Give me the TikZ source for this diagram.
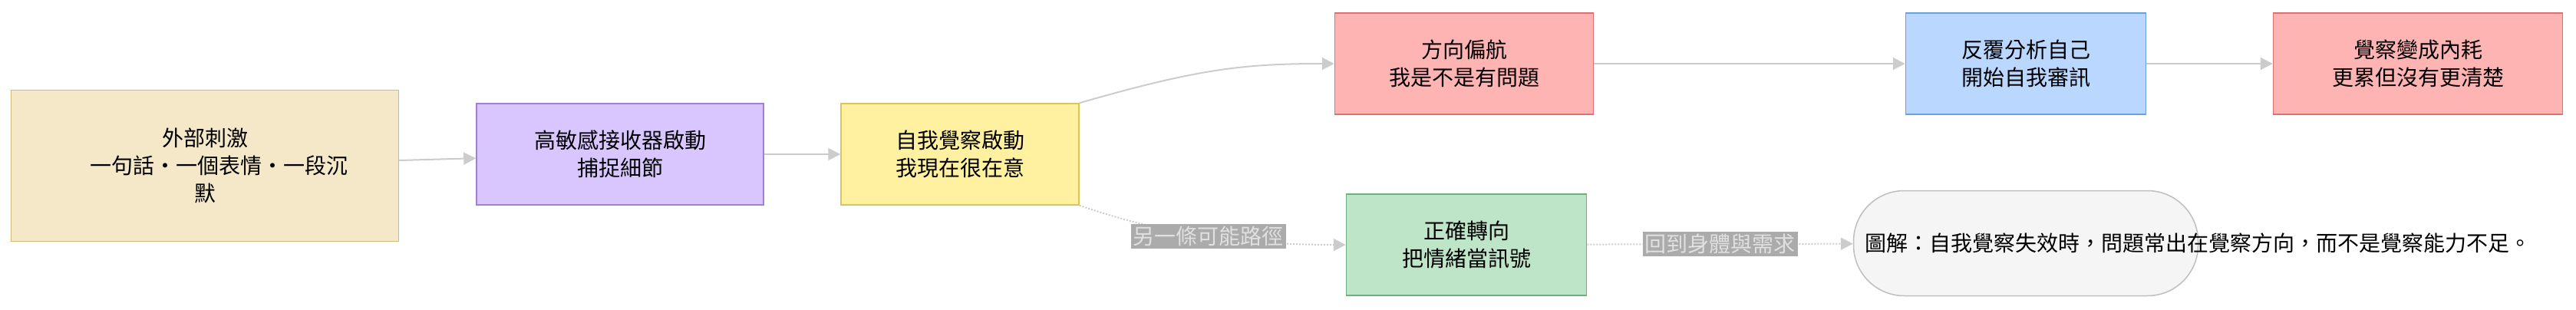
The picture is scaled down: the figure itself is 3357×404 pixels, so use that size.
\documentclass[tikz,border=0pt]{standalone}
\usepackage{fontspec}
\setmainfont{Noto Sans CJK TC}
\usetikzlibrary{arrows.meta,positioning}
\definecolor{edgegray}{HTML}{CCCCCC}
\begin{document}
\begin{tikzpicture}[x=1pt,y=-1pt,
    box/.style={draw, line width=1.5pt, minimum height=132pt, align=center,
      font=\fontsize{28}{36}\selectfont, inner sep=6pt},
    flow/.style={draw=edgegray, line width=2pt, -{Triangle[length=16pt,width=16pt]}},
    alt/.style={flow, dotted},
    tag/.style={fill=black!33, text=black!12, font=\fontsize{28}{34}\selectfont, inner sep=3pt}]
    \useasboundingbox (0,0) rectangle (3357,404);
    % Hauptkette
    \node[box, fill={rgb,255:red,245;green,232;blue,200}, draw={rgb,255:red,212;green,188;blue,120},
      minimum width=505pt, minimum height=197pt, text width=300pt] (stimulus) at (267,216)
      {外部刺激\\一句話・一個表情・一段沉\\默};
    \node[box, fill={rgb,255:red,217;green,198;blue,255}, draw={rgb,255:red,160;green,128;blue,214},
      minimum width=374pt] (sensor) at (808,201) {高敏感接收器啟動\\捕捉細節};
    \node[box, fill={rgb,255:red,255;green,241;blue,160}, draw={rgb,255:red,218;green,196;blue,92},
      minimum width=310pt] (aware) at (1251,201) {自我覺察啟動\\我現在很在意};
    % oben
    \node[box, fill={rgb,255:red,255;green,180;blue,180}, draw={rgb,255:red,224;green,112;blue,112},
      minimum width=337pt] (drift) at (1908,83) {方向偏航\\我是不是有問題};
    \node[box, fill={rgb,255:red,186;green,216;blue,255}, draw={rgb,255:red,106;green,159;blue,224},
      minimum width=313pt] (review) at (2640,83) {反覆分析自己\\開始自我審訊};
    \node[box, fill={rgb,255:red,255;green,180;blue,180}, draw={rgb,255:red,224;green,112;blue,112},
      minimum width=377pt] (drain) at (3151,83) {覺察變成內耗\\更累但沒有更清楚};
    % unten
    \node[box, fill={rgb,255:red,190;green,229;blue,200}, draw={rgb,255:red,110;green,175;blue,125},
      minimum width=313pt] (turn) at (1911,319) {正確轉向\\把情緒當訊號};
    \node[box, rounded corners=66pt, fill=black!4, draw=black!25, line width=1.5pt,
      minimum width=449pt, minimum height=137pt, text width=420pt] (note) at (2640,317)
      {圖解：自我覺察失效時，問題常出在覺察方向，而不是覺察能力不足。};
    % Kanten
    \draw[flow] (stimulus) -- (sensor);
    \draw[flow] (sensor) -- (aware);
    \draw[flow] (aware.north east) .. controls (1560,90) and (1620,83) .. (drift.west);
    \draw[flow] (drift) -- (review);
    \draw[flow] (review) -- (drain);
    \draw[alt] (aware.south east) .. controls (1500,300) and (1600,319) .. (turn.west)
      node[tag, pos=0.55] (altlabel) {另一條可能路徑};
    \draw[alt] (turn) -- (note) node[tag, midway] (backlabel) {回到身體與需求};
\end{tikzpicture}
\end{document}
